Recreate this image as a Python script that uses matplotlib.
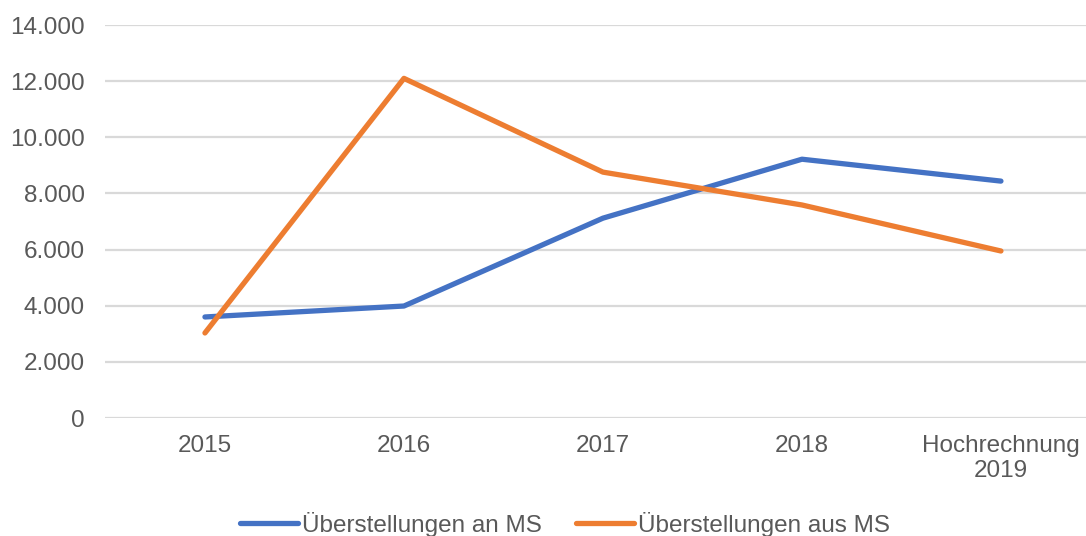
import matplotlib.pyplot as plt
from matplotlib.ticker import FuncFormatter

# data
years = ['2015', '2016', '2017', '2018', 'Hochrechnung\n2019']
an_ms = [3600, 3990, 7120, 9220, 8440]
aus_ms = [3030, 12100, 8760, 7590, 5950]

plt.rcParams['font.family'] = ['Liberation Sans', 'DejaVu Sans']

fig = plt.figure(figsize=(10.86, 5.36), dpi=100)
# plot area runs past the right edge like in the original screenshot
ax = fig.add_axes([0.0971, 0.2201, 0.9162, 0.7332])

x = range(len(years))
ax.plot(x, an_ms, color='#4472C4', lw=3.8, solid_capstyle='round',
        solid_joinstyle='round', label='Überstellungen an MS', zorder=3)
ax.plot(x, aus_ms, color='#ED7D31', lw=3.8, solid_capstyle='round',
        solid_joinstyle='round', label='Überstellungen aus MS', zorder=3)

ax.set_xlim(-0.5, 4.5)
ax.set_ylim(0, 14000)
ax.set_yticks(range(0, 14001, 2000))
ax.yaxis.set_major_formatter(FuncFormatter(lambda v, p: f'{v:,.0f}'.replace(',', '.')))
ax.set_xticks(list(x))
ax.set_xticklabels(years)

ax.grid(axis='y', color='#D9D9D9', lw=1.6)
ax.set_axisbelow(True)
for s in ax.spines.values():
    s.set_visible(False)
ax.tick_params(axis='both', length=0, labelsize=17.5, labelcolor='#595959')
ax.tick_params(axis='x', pad=12)
ax.tick_params(axis='y', pad=15)

fig.legend(loc='center', bbox_to_anchor=(0.52, 0.022), ncol=2, frameon=False,
           fontsize=17.5, labelcolor='#595959', handlelength=2.4,
           handletextpad=0.15, columnspacing=1.4)

fig.savefig('out.png', dpi=100)
